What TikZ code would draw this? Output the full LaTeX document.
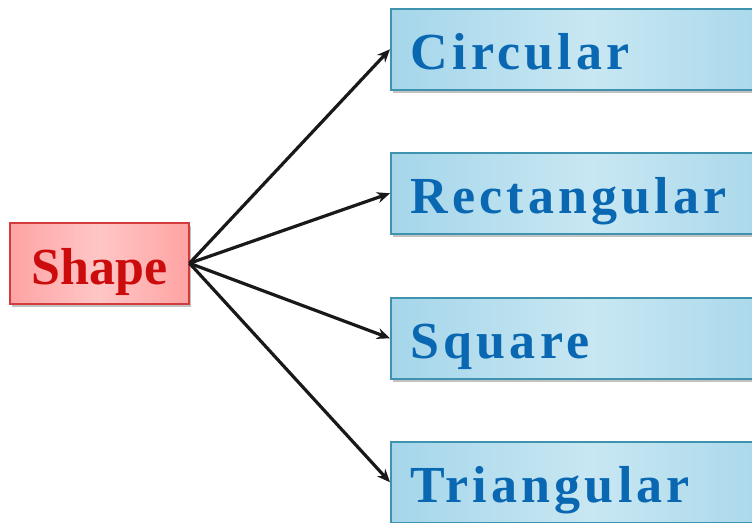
\documentclass[tikz,border=0pt]{standalone}
\usepackage{fontspec}
\setmainfont{Liberation Serif}
\usetikzlibrary{arrows.meta,shadows}
\definecolor{bfillA}{HTML}{A5D6EA}
\definecolor{bfillB}{HTML}{C8E7F2}
\definecolor{bdraw}{HTML}{3F93AE}
\definecolor{btext}{HTML}{0A68B2}
\definecolor{rfillA}{HTML}{FFA3A3}
\definecolor{rfillB}{HTML}{FFC6C6}
\definecolor{rdraw}{HTML}{D23C3C}
\definecolor{rtext}{HTML}{CC0C0C}
\tikzset{
  catbox/.style={draw=bdraw, line width=1.5pt, left color=bfillA, right color=bfillA, middle color=bfillB,
    drop shadow={shadow xshift=2pt, shadow yshift=-3pt, opacity=0.4, fill=black!60},
    anchor=north west, inner xsep=20pt, inner ysep=0pt, text width=360pt, align=left,
    text height=61pt, text depth=20pt, text=btext,
    font=\fontsize{52pt}{52pt}\selectfont\bfseries\addfontfeature{LetterSpace=8}},
  rootbox/.style={draw=rdraw, line width=1.5pt, left color=rfillA, right color=rfillA, middle color=rfillB,
    drop shadow={shadow xshift=2pt, shadow yshift=-3pt, opacity=0.4, fill=black!60},
    anchor=north west, inner xsep=21pt, inner ysep=0pt, text width=137pt, align=center,
    text height=62pt, text depth=19pt, text=rtext,
    font=\fontsize{52pt}{52pt}\selectfont\bfseries},
  link/.style={line width=3.2pt, draw=black!90, -{Stealth[length=13pt,width=11pt]}}
}
\begin{document}
\begin{tikzpicture}[x=1pt,y=-1pt]
\useasboundingbox (0,0) rectangle (752,522);
\clip (0,0) rectangle (752,522);
\node[rootbox] (shape) at (9,222) {Shape};
\node[catbox] (circ) at (390,8) {Circular};
\node[catbox] (rect) at (390,152) {Rectangular};
\node[catbox] (squa) at (390,297) {Square};
\node[catbox] (tria) at (390,441) {Triangular};
\draw[link] (shape.east) -- (circ.west);
\draw[link] (shape.east) -- (rect.west);
\draw[link] (shape.east) -- (squa.west);
\draw[link] (shape.east) -- (tria.west);
\end{tikzpicture}
\end{document}
